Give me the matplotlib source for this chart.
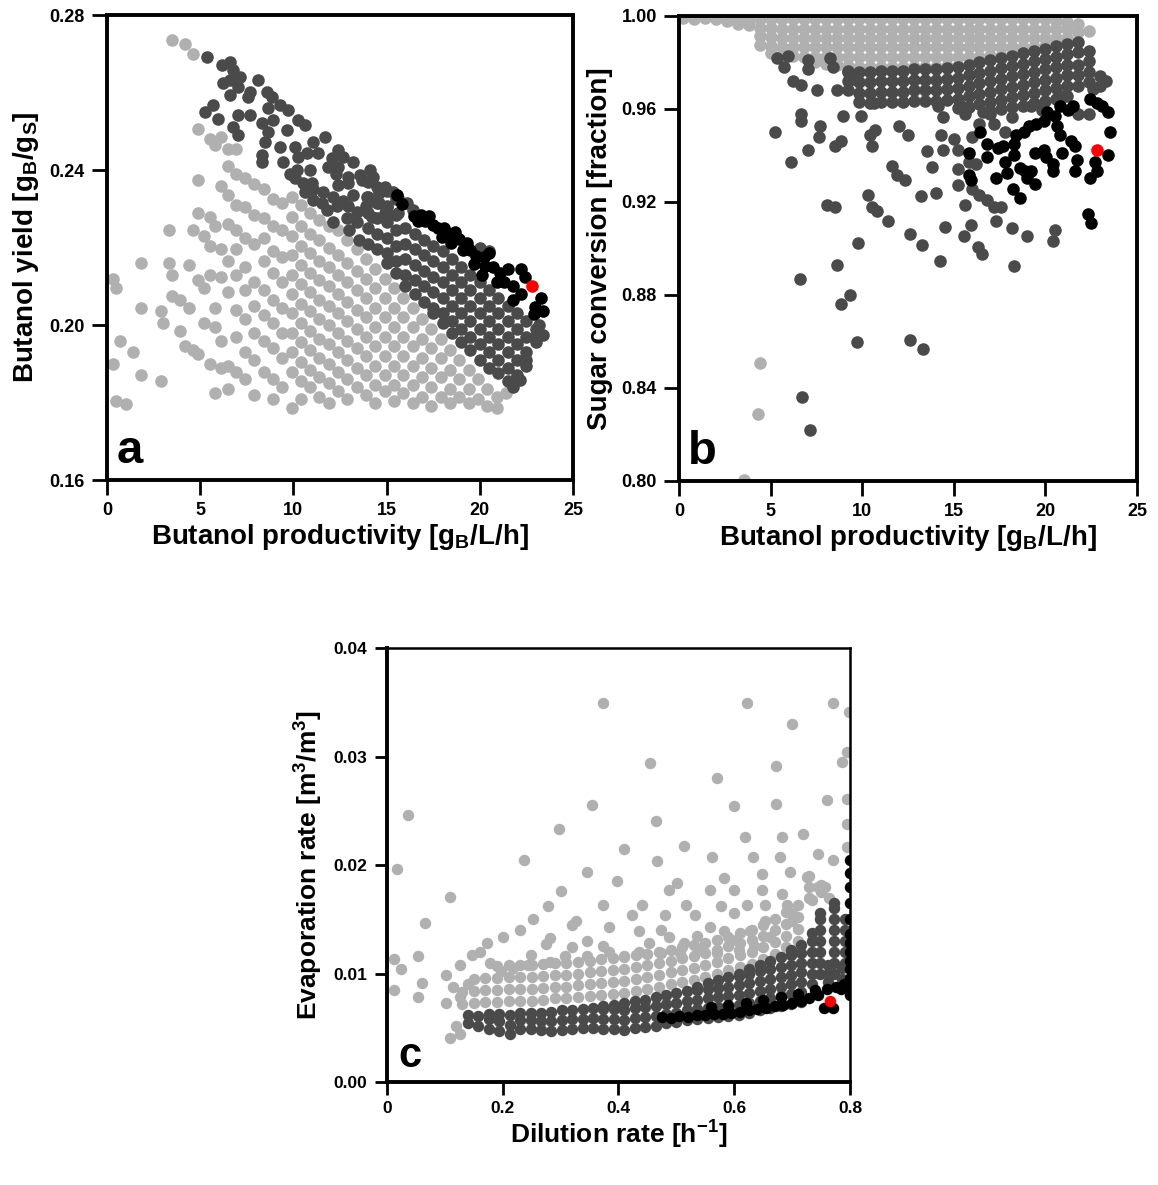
import matplotlib
matplotlib.use("Agg")
import matplotlib.pyplot as plt

plt.rcParams["font.family"] = ["Liberation Sans", "DejaVu Sans"]
plt.rcParams["font.weight"] = "bold"
plt.rcParams["mathtext.fontset"] = "custom"
plt.rcParams["mathtext.rm"] = "Liberation Sans:bold"
plt.rcParams["mathtext.bf"] = "Liberation Sans:bold"
plt.rcParams["mathtext.default"] = "bf"

LIGHT = "#b0b0b0"
DARK = "#4a4a4a"
BLACK = "#000000"
RED = "#ff0000"

# ---------------- panel a : productivity vs yield ----------------
a_light_cx = [0.3, 0.5, 0.7, 1.0, 1.4, 1.8, 2.9, 3.0, 3.3, 3.5, 3.9, 4.2, 4.4, 4.6, 4.9,
              5.2, 5.5, 5.8, 6.1, 6.5, 6.9, 7.4, 7.9, 8.4, 8.9, 9.4, 9.9, 10.4, 10.9,
              11.4, 11.9, 12.4, 12.9, 13.4, 13.9, 14.4, 14.9, 15.4, 15.9, 16.4, 16.9,
              17.4, 17.9, 18.4, 18.9, 19.4, 19.9, 20.4, 20.9, 21.4]
a_light_cy = [
    [0.212, 0.190], [0.2095, 0.1805], [0.196], [0.1795], [0.193],
    [0.216, 0.2045, 0.187], [0.2035, 0.1855], [0.2005], [0.2245, 0.216],
    [0.2735, 0.213, 0.2075], [0.2065, 0.1985], [0.2725, 0.1945], [0.2155, 0.2045],
    [0.2700, 0.2245, 0.1935], [0.2505, 0.2375, 0.229, 0.2115, 0.1925],
    [0.2230, 0.2095, 0.2005], [0.2480, 0.2280, 0.2205, 0.2130, 0.1900],
    [0.2465, 0.2255, 0.2045, 0.1995, 0.1825],
    [0.2485, 0.2360, 0.2195, 0.2125, 0.1960, 0.1890],
    [0.2455, 0.2410, 0.2335, 0.2260, 0.2165, 0.2085, 0.1895, 0.1835],
    [0.2455, 0.2390, 0.2310, 0.2245, 0.2195, 0.2130, 0.2040, 0.1970, 0.1880],
    [0.2380, 0.2305, 0.2225, 0.2150, 0.2090, 0.2015, 0.1930, 0.1860],
    [0.2365, 0.2285, 0.2210, 0.2110, 0.2050, 0.1980, 0.1910, 0.1820],
    [0.2350, 0.2275, 0.2225, 0.2165, 0.2090, 0.2025, 0.1960, 0.1880],
    [0.2325, 0.2255, 0.2190, 0.2135, 0.2065, 0.2005, 0.1940, 0.1860, 0.1810],
    [0.2315, 0.2245, 0.2175, 0.2110, 0.2045, 0.1980, 0.1915, 0.1840],
    [0.2330, 0.2280, 0.2230, 0.2180, 0.2130, 0.2080, 0.2030, 0.1980, 0.1930, 0.1880, 0.1785],
    [0.2310, 0.2255, 0.2205, 0.2155, 0.2105, 0.2055, 0.2005, 0.1955, 0.1905, 0.1855, 0.1810],
    [0.2290, 0.2235, 0.2185, 0.2135, 0.2085, 0.2035, 0.1985, 0.1935, 0.1885, 0.1840],
    [0.2270, 0.2220, 0.2165, 0.2115, 0.2065, 0.2015, 0.1965, 0.1915, 0.1865, 0.1815],
    [0.2255, 0.2200, 0.2150, 0.2100, 0.2050, 0.2000, 0.1950, 0.1900, 0.1850, 0.1800],
    [0.2245, 0.2180, 0.2130, 0.2080, 0.2030, 0.1980, 0.1930, 0.1880, 0.1830],
    [0.2220, 0.2160, 0.2110, 0.2060, 0.2010, 0.1960, 0.1910, 0.1860, 0.1810],
    [0.2195, 0.2140, 0.2090, 0.2040, 0.1990, 0.1940, 0.1890, 0.1840],
    [0.2170, 0.2120, 0.2070, 0.2020, 0.1970, 0.1920, 0.1870, 0.1820],
    [0.2145, 0.2095, 0.2045, 0.1995, 0.1945, 0.1895, 0.1845, 0.1800],
    [0.2120, 0.2070, 0.2020, 0.1970, 0.1920, 0.1870, 0.1830],
    [0.2095, 0.2045, 0.1995, 0.1945, 0.1895, 0.1845, 0.1805],
    [0.2070, 0.2020, 0.1970, 0.1920, 0.1870, 0.1825],
    [0.2045, 0.1995, 0.1945, 0.1895, 0.1845, 0.1800],
    [0.2015, 0.1965, 0.1915, 0.1865, 0.1815],
    [0.1990, 0.1940, 0.1890, 0.1840, 0.1790],
    [0.1965, 0.1915, 0.1865, 0.1815],
    [0.1935, 0.1885, 0.1835, 0.1800],
    [0.1910, 0.1860, 0.1815],
    [0.1885, 0.1835, 0.1800],
    [0.1860, 0.1810],
    [0.1835, 0.1790],
    [0.1815, 0.1785],
    [0.1825],
]

a_dark_x = [5.35, 6.15, 6.6, 6.78, 7.14, 8.12, 6.24, 6.6, 7.03, 7.67, 6.6, 7.58, 8.57, 8.83,
            5.70, 5.26, 5.97, 7.05, 7.67, 8.65, 9.28, 9.73, 8.30, 8.92, 10.26, 10.62, 6.78,
            7.05, 8.65, 9.64, 11.07, 11.70, 8.48, 9.28, 10.09, 10.71, 11.34, 12.41, 8.30,
            8.30, 9.46, 10.26, 12.06, 12.68, 9.82, 10.18, 10.9, 11.87, 12.41, 13.21, 10.09,
            10.53, 10.99, 12.3, 12.95, 13.57, 14.11, 10.62, 11.07, 11.6, 12.41, 12.95, 13.66,
            14.29, 14.91, 11.07, 11.52, 12.14, 12.68, 13.2, 13.93, 14.6, 15.36, 15.6, 11.79,
            12.33, 12.95, 13.4, 13.9, 14.6, 15.0, 16.08, 12.14, 12.85, 13.4, 14.2, 14.9, 15.6,
            16.43, 13.0, 13.5, 20.0, 20.5, 21.8, 22.16, 22.5, 23.05, 23.2]
a_dark_y = [0.2692, 0.2671, 0.2680, 0.2658, 0.2641, 0.2632, 0.2624, 0.2632, 0.2615, 0.2602,
            0.2594, 0.2589, 0.2602, 0.2589, 0.2568, 0.2551, 0.2533, 0.2542, 0.2542, 0.2559,
            0.2568, 0.2555, 0.2521, 0.2529, 0.2529, 0.2516, 0.2512, 0.2490, 0.2499, 0.2503,
            0.2473, 0.2486, 0.2473, 0.2460, 0.2460, 0.2443, 0.2443, 0.2452, 0.2439, 0.2422,
            0.2421, 0.2434, 0.2430, 0.2434, 0.2391, 0.2400, 0.2400, 0.2409, 0.2409, 0.2421,
            0.2379, 0.2366, 0.2366, 0.2390, 0.2383, 0.2387, 0.2400, 0.2344, 0.2350, 0.2344,
            0.2362, 0.2366, 0.2374, 0.2383, 0.2357, 0.2323, 0.2314, 0.2331, 0.2319, 0.2336,
            0.2331, 0.2340, 0.2344, 0.2327, 0.2297, 0.2306, 0.2306, 0.2293, 0.2306, 0.2314,
            0.2306, 0.2314, 0.2267, 0.2276, 0.2267, 0.2280, 0.2290, 0.2290, 0.2297, 0.2245,
            0.2220, 0.2200, 0.2190, 0.1840, 0.1858, 0.1910, 0.1978, 0.2000]
a_dark_cx = [14.0, 14.5, 15.0, 15.5, 16.0, 16.5, 17.0, 17.5, 18.0, 18.5, 19.0, 19.5, 20.0,
             20.5, 21.0, 21.5, 22.0, 22.5, 23.0, 23.4]
a_dark_cy = [
    [0.2370, 0.2330, 0.2290, 0.2250, 0.2210],
    [0.2355, 0.2315, 0.2275, 0.2235, 0.2195],
    [0.2345, 0.2305, 0.2265, 0.2225, 0.2185, 0.2160],
    [0.2325, 0.2285, 0.2245, 0.2205, 0.2165, 0.2135],
    [0.2250, 0.2210, 0.2170, 0.2130, 0.2100],
    [0.2235, 0.2195, 0.2155, 0.2115, 0.2080],
    [0.2220, 0.2180, 0.2140, 0.2100, 0.2060],
    [0.2205, 0.2165, 0.2125, 0.2085, 0.2045, 0.2030],
    [0.2190, 0.2150, 0.2110, 0.2070, 0.2030, 0.2005],
    [0.2170, 0.2130, 0.2090, 0.2050, 0.2010, 0.1980],
    [0.2150, 0.2110, 0.2070, 0.2030, 0.1990, 0.1955],
    [0.2130, 0.2090, 0.2050, 0.2010, 0.1970, 0.1935],
    [0.2110, 0.2070, 0.2030, 0.1990, 0.1950, 0.1910],
    [0.2090, 0.2050, 0.2010, 0.1970, 0.1930, 0.1890],
    [0.2070, 0.2030, 0.1990, 0.1950, 0.1910, 0.1875],
    [0.2050, 0.2010, 0.1970, 0.1930, 0.1890, 0.1855],
    [0.2030, 0.1990, 0.1950, 0.1910, 0.1870],
    [0.2010, 0.1970, 0.1930, 0.1895],
    [0.1990, 0.1955],
    [0.1975],
]
a_black_x = [15.55, 15.81, 16.46, 16.86, 17.27, 17.47, 17.77, 18.08, 18.38, 18.68, 18.89,
             19.29, 19.49, 19.80, 20.2, 20.5, 20.3, 20.7, 21.1, 21.5, 21.3, 21.8, 22.2,
             22.4, 21.8, 22.2, 23.3, 23.4, 22.9, 22.95, 16.66, 17.06, 17.98, 18.48, 19.09,
             19.70, 20.1, 20.9]
a_black_y = [0.2335, 0.2313, 0.2282, 0.2284, 0.2282, 0.2259, 0.2250, 0.2250, 0.2236, 0.2241,
             0.2222, 0.2213, 0.2194, 0.2178, 0.2176, 0.2185, 0.2153, 0.2150, 0.2134, 0.2144,
             0.2111, 0.2102, 0.2144, 0.2125, 0.2065, 0.2079, 0.2070, 0.2037, 0.2028, 0.2047,
             0.2268, 0.2268, 0.2227, 0.2213, 0.2194, 0.2157, 0.2130, 0.2111]
a_best = (22.8, 0.2102)

# ---------------- panel b : productivity vs sugar conversion ----------------
b_light_cx = [0.2, 0.8, 1.4, 2.0, 2.6, 3.2, 3.8, 4.4, 5.0, 5.6, 6.2, 6.8, 7.4, 8.0, 8.6,
              9.2, 9.8, 10.4, 11.0, 11.6, 12.2, 12.8, 13.4, 14.0, 14.6, 15.2, 15.8, 16.4,
              17.0, 17.6, 18.2, 18.8, 19.4, 20.0, 20.6, 21.2, 21.8, 22.4]
b_light_cy = [
    [0.9990], [0.9985], [0.9990], [0.9985], [0.9980], [0.9985, 0.9965], [0.9985, 0.9960],
    [0.9985, 0.9950, 0.9915, 0.9875],
    [0.9985, 0.9950, 0.9910, 0.9870, 0.9840],
    [0.9985, 0.9945, 0.9905, 0.9865, 0.9830],
    [0.9985, 0.9945, 0.9905, 0.9865, 0.9830],
    [0.9985, 0.9945, 0.9905, 0.9865, 0.9825],
    [0.9985, 0.9945, 0.9905, 0.9865, 0.9825, 0.9800],
    [0.9985, 0.9945, 0.9905, 0.9865, 0.9825, 0.9795],
    [0.9985, 0.9945, 0.9905, 0.9865, 0.9825, 0.9790],
    [0.9985, 0.9945, 0.9905, 0.9865, 0.9825, 0.9785],
    [0.9985, 0.9945, 0.9905, 0.9865, 0.9825, 0.9780],
    [0.9985, 0.9945, 0.9905, 0.9865, 0.9825, 0.9780],
    [0.9985, 0.9945, 0.9905, 0.9865, 0.9825, 0.9780],
    [0.9985, 0.9945, 0.9905, 0.9865, 0.9825, 0.9780],
    [0.9985, 0.9945, 0.9905, 0.9865, 0.9825, 0.9780],
    [0.9985, 0.9945, 0.9905, 0.9865, 0.9825, 0.9780],
    [0.9985, 0.9945, 0.9905, 0.9865, 0.9825, 0.9780],
    [0.9985, 0.9945, 0.9905, 0.9865, 0.9825, 0.9780],
    [0.9985, 0.9945, 0.9905, 0.9865, 0.9825, 0.9785],
    [0.9985, 0.9945, 0.9905, 0.9865, 0.9825, 0.9785],
    [0.9985, 0.9945, 0.9905, 0.9865, 0.9825, 0.9790],
    [0.9985, 0.9945, 0.9905, 0.9865, 0.9825, 0.9800],
    [0.9985, 0.9945, 0.9905, 0.9865, 0.9830],
    [0.9985, 0.9945, 0.9905, 0.9865, 0.9830],
    [0.9985, 0.9945, 0.9905, 0.9865, 0.9835],
    [0.9985, 0.9945, 0.9905, 0.9865, 0.9845],
    [0.9985, 0.9945, 0.9905, 0.9865],
    [0.9985, 0.9945, 0.9905, 0.9870],
    [0.9980, 0.9945, 0.9905, 0.9880],
    [0.9975, 0.9945, 0.9905],
    [0.9965, 0.9930],
    [0.9935],
]
b_light_x = [4.43, 4.29, 3.57]
b_light_y = [0.8507, 0.8290, 0.8005]

b_dark_x = [5.23, 5.33, 5.73, 5.93, 6.13, 6.23, 6.63, 6.63, 6.63, 6.59, 6.73, 7.13, 7.03, 7.03,
            7.03, 7.51, 7.67, 7.63, 8.23, 8.43, 8.63, 8.53, 8.83, 8.93, 8.07, 8.53, 8.63, 8.83,
            9.33, 9.76, 9.72, 9.22, 9.42, 9.92, 10.32, 10.52, 10.82, 10.42, 10.72, 10.52,
            10.62, 11.42, 11.62, 11.92, 12.32, 12.02, 12.62, 12.62, 13.32, 13.22, 13.27,
            12.52, 13.52, 13.82, 14.02, 14.22, 14.52, 14.12, 14.42, 14.32, 14.42, 15.02,
            15.22, 15.22, 15.22, 15.62, 15.58, 15.92, 16.32, 16.52, 16.0, 16.4, 16.8, 17.2,
            17.6, 15.82, 16.22, 17.3, 18.2, 18.3, 19.0, 20.4, 20.5, 17.8, 17.2, 16.0, 16.4,
            15.6, 15.4, 16.6, 17.0, 18.2, 19.2, 19.8, 21.0, 21.8, 22.4, 22.6, 23.3]
b_dark_y = [0.9503, 0.9819, 0.9781, 0.9827, 0.9371, 0.9719, 0.9703, 0.9580, 0.9549, 0.8869,
            0.8360, 0.8220, 0.9812, 0.9773, 0.9425, 0.9680, 0.9526, 0.9480, 0.9819, 0.9780,
            0.9680, 0.9440, 0.9464, 0.9572, 0.9186, 0.9178, 0.8931, 0.8761, 0.8800, 0.9024,
            0.8599, 0.9758, 0.9727, 0.9572, 0.9232, 0.9178, 0.9163, 0.9487, 0.9510, 0.9440,
            0.9626, 0.9117, 0.9356, 0.9318, 0.9294, 0.9526, 0.9063, 0.8607, 0.8568, 0.9225,
            0.9016, 0.9487, 0.9418, 0.9349, 0.9240, 0.8947, 0.9093, 0.9611, 0.9565, 0.9487,
            0.9425, 0.9472, 0.9425, 0.9340, 0.9271, 0.9186, 0.9055, 0.9101, 0.9008, 0.8978,
            0.9256, 0.9232, 0.9209, 0.9178, 0.9178, 0.9371, 0.9364, 0.9117, 0.9086, 0.8924,
            0.9055, 0.9032, 0.9078, 0.9503, 0.9534, 0.9480, 0.9534, 0.9580, 0.9611, 0.9588,
            0.9580, 0.9565, 0.9611, 0.9595, 0.9657, 0.9580, 0.9580, 0.9688, 0.9719]
b_dark_cx = [9.2, 9.8, 10.4, 11.0, 11.6, 12.2, 12.8, 13.4, 14.0, 14.6, 15.2, 15.8, 16.4,
             17.0, 17.6, 18.2, 18.8, 19.4, 20.0, 20.6, 21.2, 21.8, 22.4, 23.0]
b_dark_cy = [
    [0.9765, 0.9720, 0.9680],
    [0.9760, 0.9715, 0.9670, 0.9630],
    [0.9760, 0.9715, 0.9670, 0.9625],
    [0.9765, 0.9720, 0.9675, 0.9630],
    [0.9765, 0.9720, 0.9675, 0.9630],
    [0.9765, 0.9720, 0.9675, 0.9630],
    [0.9770, 0.9725, 0.9680, 0.9635],
    [0.9770, 0.9725, 0.9680, 0.9635],
    [0.9770, 0.9725, 0.9680, 0.9635],
    [0.9775, 0.9730, 0.9685, 0.9640],
    [0.9780, 0.9735, 0.9690, 0.9645, 0.9605],
    [0.9790, 0.9745, 0.9700, 0.9655, 0.9610],
    [0.9800, 0.9755, 0.9710, 0.9665, 0.9620],
    [0.9810, 0.9765, 0.9720, 0.9675, 0.9630, 0.9590],
    [0.9820, 0.9775, 0.9730, 0.9685, 0.9640, 0.9600],
    [0.9830, 0.9785, 0.9740, 0.9695, 0.9650, 0.9610],
    [0.9840, 0.9795, 0.9750, 0.9705, 0.9660, 0.9615],
    [0.9850, 0.9805, 0.9760, 0.9715, 0.9670, 0.9625],
    [0.9860, 0.9815, 0.9770, 0.9725, 0.9680, 0.9635],
    [0.9870, 0.9825, 0.9780, 0.9735, 0.9690, 0.9645],
    [0.9880, 0.9835, 0.9790, 0.9745, 0.9700, 0.9655],
    [0.9890, 0.9845, 0.9790, 0.9745, 0.9700],
    [0.9850, 0.9805, 0.9760, 0.9715],
    [0.9740, 0.9700],
]
b_black_x = [16.41, 15.81, 16.81, 16.81, 17.41, 17.71, 17.31, 17.81, 17.91, 18.31, 18.41,
             18.81, 19.11, 19.51, 19.91, 20.11, 20.51, 20.81, 21.21, 21.51, 18.31, 18.61,
             18.91, 19.01, 19.41, 18.21, 18.61, 19.91, 20.01, 20.41, 20.41, 20.61, 20.81,
             20.91, 21.41, 21.61, 21.71, 21.61, 22.41, 22.81, 22.71, 22.41, 22.81, 23.11,
             23.41, 23.51, 23.41, 22.31, 22.51, 15.81, 15.91, 19.41, 19.21]
b_black_y = [0.9503, 0.9410, 0.9449, 0.9395, 0.9434, 0.9441, 0.9302, 0.9371, 0.9325, 0.9449,
             0.9487, 0.9503, 0.9526, 0.9534, 0.9549, 0.9588, 0.9572, 0.9611, 0.9595, 0.9611,
             0.9402, 0.9348, 0.9333, 0.9302, 0.9279, 0.9256, 0.9217, 0.9425, 0.9395, 0.9364,
             0.9333, 0.9526, 0.9487, 0.9410, 0.9464, 0.9441, 0.9379, 0.9333, 0.9302, 0.9333,
             0.9371, 0.9642, 0.9626, 0.9611, 0.9588, 0.9503, 0.9402, 0.9147, 0.9109, 0.9317,
             0.9294, 0.9410, 0.9333]
b_best = (22.81, 0.9425)

# ---------------- panel c : dilution rate vs evaporation rate ----------------
c_light_x = [0.3727, 0.622, 0.770, 0.699, 0.799, 0.455, 0.795, 0.786, 0.673, 0.571, 0.760,
             0.673, 0.600, 0.355, 0.037, 0.465, 0.2975, 0.718, 0.619, 0.683, 0.795, 0.795,
             0.795, 0.513, 0.410, 0.561, 0.632, 0.679, 0.466, 0.2375, 0.770, 0.744, 0.018,
             0.696, 0.346, 0.648, 0.583, 0.725, 0.397, 0.501, 0.488, 0.558, 0.600, 0.648,
             0.744, 0.757, 0.3005, 0.683, 0.109, 0.734, 0.763, 0.374, 0.278, 0.441, 0.516,
             0.577, 0.622, 0.654, 0.692, 0.481, 0.423, 0.532, 0.600, 0.699, 0.654, 0.065,
             0.2525, 0.320, 0.326, 0.558, 0.230, 0.383, 0.436, 0.474, 0.583, 0.628, 0.535,
             0.487, 0.201, 0.281, 0.346, 0.374, 0.452, 0.513, 0.603, 0.661, 0.699, 0.172,
             0.275, 0.320, 0.147, 0.160, 0.249, 0.0116, 0.053, 0.024, 0.1015, 0.127, 0.178,
             0.1965, 0.217, 0.243, 0.281, 0.307, 0.346, 0.384, 0.410, 0.436, 0.474, 0.506,
             0.538, 0.571, 0.609, 0.635, 0.0116, 0.060, 0.053, 0.1015, 0.114, 0.140, 0.127,
             0.109, 0.127, 0.120]
c_light_y = [0.0349, 0.0349, 0.0349, 0.0330, 0.0341, 0.0294, 0.0304, 0.0295, 0.0291, 0.0280,
             0.0260, 0.0256, 0.0254, 0.0255, 0.0246, 0.0241, 0.0233, 0.0229, 0.0226, 0.0226,
             0.0261, 0.0238, 0.0217, 0.0218, 0.0215, 0.0207, 0.0207, 0.0207, 0.0204, 0.0205,
             0.0205, 0.0210, 0.0196, 0.0194, 0.0194, 0.0192, 0.0188, 0.0189, 0.0185, 0.0183,
             0.0177, 0.0177, 0.0177, 0.0177, 0.0180, 0.0180, 0.0176, 0.0173, 0.0171, 0.0168,
             0.0170, 0.0163, 0.0162, 0.0163, 0.0163, 0.0162, 0.0163, 0.0163, 0.0163, 0.0154,
             0.0154, 0.0154, 0.0156, 0.0156, 0.0148, 0.0147, 0.0150, 0.0145, 0.0148, 0.0143,
             0.0140, 0.0143, 0.0139, 0.0140, 0.0139, 0.0139, 0.0135, 0.0134, 0.0134, 0.0133,
             0.0130, 0.0125, 0.0128, 0.0128, 0.0131, 0.0134, 0.0148, 0.0128, 0.0127, 0.0124,
             0.0117, 0.0120, 0.0117, 0.0113, 0.0116, 0.0104, 0.0099, 0.0108, 0.0110, 0.0102,
             0.0105, 0.0108, 0.0111, 0.0116, 0.0116, 0.0120, 0.0116, 0.0120, 0.0119, 0.0119,
             0.0122, 0.0119, 0.0122, 0.0125, 0.0085, 0.0091, 0.0078, 0.0073, 0.0088, 0.0090,
             0.0078, 0.0041, 0.0044, 0.0052]
c_light_cx = [0.13, 0.15, 0.17, 0.19, 0.21, 0.23, 0.25, 0.27, 0.29, 0.31, 0.33, 0.35, 0.37,
              0.39, 0.41, 0.43, 0.45, 0.47, 0.49, 0.51, 0.53, 0.55, 0.57, 0.59, 0.61, 0.63,
              0.65, 0.67, 0.69, 0.71, 0.73, 0.75]
c_light_cy = [
    [0.0072, 0.0083], [0.0073, 0.0084, 0.0095], [0.0074, 0.0085, 0.0096],
    [0.0074, 0.0085, 0.0096, 0.0107], [0.0075, 0.0086, 0.0097, 0.0108],
    [0.0075, 0.0086, 0.0097, 0.0108], [0.0075, 0.0086, 0.0097, 0.0108],
    [0.0076, 0.0087, 0.0098, 0.0109], [0.0077, 0.0088, 0.0099, 0.0110],
    [0.0077, 0.0088, 0.0099, 0.0110], [0.0078, 0.0089, 0.0100, 0.0111],
    [0.0079, 0.0090, 0.0101, 0.0112], [0.0080, 0.0091, 0.0102, 0.0113],
    [0.0081, 0.0092, 0.0103, 0.0114], [0.0082, 0.0093, 0.0104, 0.0115],
    [0.0084, 0.0095, 0.0106, 0.0117], [0.0086, 0.0097, 0.0108, 0.0118],
    [0.0088, 0.0099, 0.0110, 0.0120], [0.0090, 0.0101, 0.0112, 0.0122],
    [0.0092, 0.0103, 0.0114, 0.0124], [0.0094, 0.0105, 0.0116, 0.0126],
    [0.0097, 0.0108, 0.0119, 0.0128], [0.0100, 0.0111, 0.0122, 0.0131],
    [0.0103, 0.0114, 0.0125, 0.0134], [0.0106, 0.0117, 0.0128, 0.0137],
    [0.0109, 0.0120, 0.0131, 0.0140], [0.0113, 0.0124, 0.0135, 0.0145],
    [0.0118, 0.0129, 0.0140, 0.0150], [0.0124, 0.0135, 0.0146, 0.0157],
    [0.0130, 0.0141, 0.0152, 0.0163], [0.0170, 0.0180, 0.0190], [0.0175, 0.0182],
]
c_dark_cx = [0.140, 0.158, 0.176, 0.194, 0.212, 0.230, 0.248, 0.266, 0.284, 0.302, 0.320,
             0.338, 0.356, 0.374, 0.392, 0.410, 0.428, 0.446, 0.464, 0.482, 0.500, 0.518,
             0.536, 0.554, 0.572, 0.590, 0.608, 0.626, 0.644, 0.662, 0.680, 0.698, 0.716,
             0.734, 0.748, 0.762, 0.772, 0.786, 0.792]
c_dark_cy = [
    [0.0054, 0.0062], [0.0052, 0.0061], [0.0049, 0.0058, 0.0063], [0.0047, 0.0056, 0.0063],
    [0.0044, 0.0053, 0.0062], [0.0049, 0.0057, 0.0064], [0.0049, 0.0057, 0.0064],
    [0.0048, 0.0056, 0.0064], [0.0047, 0.0056, 0.0065], [0.0048, 0.0057, 0.0066],
    [0.0049, 0.0058, 0.0066], [0.0050, 0.0058, 0.0067], [0.0050, 0.0059, 0.0068],
    [0.0049, 0.0058, 0.0067, 0.0070], [0.0049, 0.0058, 0.0067, 0.0071],
    [0.0048, 0.0057, 0.0066, 0.0073], [0.0050, 0.0059, 0.0068, 0.0075],
    [0.0051, 0.0060, 0.0069, 0.0076], [0.0052, 0.0061, 0.0070, 0.0078],
    [0.0054, 0.0063, 0.0072, 0.0080], [0.0055, 0.0064, 0.0073, 0.0082],
    [0.0057, 0.0066, 0.0075, 0.0084], [0.0058, 0.0067, 0.0076, 0.0085, 0.0088],
    [0.0059, 0.0068, 0.0077, 0.0086, 0.0091], [0.0060, 0.0069, 0.0078, 0.0087, 0.0094],
    [0.0061, 0.0070, 0.0079, 0.0088, 0.0097],
    [0.0062, 0.0071, 0.0080, 0.0089, 0.0098, 0.0100],
    [0.0064, 0.0073, 0.0082, 0.0091, 0.0100, 0.0104],
    [0.0066, 0.0075, 0.0084, 0.0093, 0.0102, 0.0108],
    [0.0068, 0.0077, 0.0086, 0.0095, 0.0104, 0.0112],
    [0.0070, 0.0079, 0.0088, 0.0097, 0.0106, 0.0115],
    [0.0072, 0.0081, 0.0090, 0.0099, 0.0108, 0.0117, 0.0122],
    [0.0074, 0.0083, 0.0092, 0.0101, 0.0110, 0.0119, 0.0126],
    [0.0090, 0.0100, 0.0110, 0.0120, 0.0130, 0.0137],
    [0.0100, 0.0110, 0.0120, 0.0130, 0.0140, 0.0150, 0.0156],
    [0.0092, 0.0100, 0.0108],
    [0.0100, 0.0110, 0.0120, 0.0130, 0.0140, 0.0150, 0.0160, 0.0165],
    [0.0095, 0.0105],
    [0.0110, 0.0120, 0.0130, 0.0140, 0.0150],
]
c_black_x = [0.475, 0.490, 0.505, 0.520, 0.535, 0.550, 0.565, 0.580, 0.595, 0.610, 0.625,
             0.640, 0.655, 0.670, 0.685, 0.700, 0.715, 0.730, 0.745, 0.760, 0.775, 0.790,
             0.560, 0.590, 0.620, 0.650, 0.680, 0.710, 0.740, 0.755, 0.770, 0.785,
             0.800, 0.800, 0.800, 0.800, 0.800, 0.800, 0.800, 0.800, 0.800, 0.800, 0.800,
             0.800, 0.800]
c_black_y = [0.0060, 0.0059, 0.0061, 0.0060, 0.0062, 0.0062, 0.0063, 0.0063, 0.0064, 0.0065,
             0.0066, 0.0067, 0.0068, 0.0070, 0.0071, 0.0073, 0.0075, 0.0077, 0.0080, 0.0086,
             0.0088, 0.0090, 0.0069, 0.0071, 0.0073, 0.0076, 0.0078, 0.0081, 0.0085, 0.0068,
             0.0068, 0.0086, 0.0080, 0.0088, 0.0096, 0.0104, 0.0112, 0.0120, 0.0128, 0.0136,
             0.0150, 0.0165, 0.0180, 0.0193, 0.0205]
c_best = (0.765, 0.0075)


def flat(cx, cy):
    xs, ys = [], []
    for x, col in zip(cx, cy):
        for y in col:
            xs.append(x)
            ys.append(y)
    return xs, ys


def style(ax, size, lw=2.8):
    for s in ax.spines.values():
        s.set_linewidth(lw)
    ax.tick_params(direction="out", length=11, width=2.0, labelsize=size, pad=5)
    for lab in ax.get_xticklabels() + ax.get_yticklabels():
        lab.set_fontweight("bold")


fig = plt.figure(figsize=(11.58, 11.85), dpi=100)
S = 82

# panel a
ax = fig.add_axes([0.0924, 0.5949, 0.4024, 0.3924])
ax.scatter(*flat(a_light_cx, a_light_cy), s=S, c=LIGHT, lw=0)
ax.scatter(a_dark_x, a_dark_y, s=S, c=DARK, lw=0)
ax.scatter(*flat(a_dark_cx, a_dark_cy), s=S, c=DARK, lw=0)
ax.scatter(a_black_x, a_black_y, s=S, c=BLACK, lw=0)
ax.scatter(*a_best, s=S, c=RED, lw=0)
ax.set_xlim(0, 25)
ax.set_ylim(0.16, 0.28)
ax.set_xticks([0, 5, 10, 15, 20, 25])
ax.set_yticks([0.16, 0.20, 0.24, 0.28])
ax.set_yticklabels(["0.16", "0.20", "0.24", "0.28"])
style(ax, 13)
ax.set_xlabel("Butanol productivity [g$_B$/L/h]", fontsize=20, fontweight="bold", labelpad=2)
ax.set_ylabel("Butanol yield [g$_B$/g$_S$]", fontsize=20, fontweight="bold", labelpad=6)
ax.text(0.02, 0.015, "a", transform=ax.transAxes, fontsize=34, fontweight="bold",
        ha="left", va="bottom")

# panel b
ax = fig.add_axes([0.5864, 0.5941, 0.3955, 0.3924])
ax.scatter(*flat(b_light_cx, b_light_cy), s=S, c=LIGHT, lw=0)
ax.scatter(b_light_x, b_light_y, s=S, c=LIGHT, lw=0)
ax.scatter(b_dark_x, b_dark_y, s=S, c=DARK, lw=0)
ax.scatter(*flat(b_dark_cx, b_dark_cy), s=S, c=DARK, lw=0)
ax.scatter(b_black_x, b_black_y, s=S, c=BLACK, lw=0)
ax.scatter(*b_best, s=S, c=RED, lw=0)
ax.set_xlim(0, 25)
ax.set_ylim(0.80, 1.00)
ax.set_xticks([0, 5, 10, 15, 20, 25])
ax.set_yticks([0.80, 0.84, 0.88, 0.92, 0.96, 1.00])
ax.set_yticklabels(["0.80", "0.84", "0.88", "0.92", "0.96", "1.00"])
style(ax, 13)
ax.set_xlabel("Butanol productivity [g$_B$/L/h]", fontsize=20, fontweight="bold", labelpad=2)
ax.set_ylabel("Sugar conversion [fraction]", fontsize=20, fontweight="bold", labelpad=6)
ax.text(0.02, 0.015, "b", transform=ax.transAxes, fontsize=34, fontweight="bold",
        ha="left", va="bottom")

# panel c
ax = fig.add_axes([0.3342, 0.0869, 0.3998, 0.3662])
Sc = 68
ax.scatter(c_light_x, c_light_y, s=Sc, c=LIGHT, lw=0)
ax.scatter(*flat(c_light_cx, c_light_cy), s=Sc, c=LIGHT, lw=0)
ax.scatter(*flat(c_dark_cx, c_dark_cy), s=Sc, c=DARK, lw=0)
ax.scatter(c_black_x, c_black_y, s=Sc, c=BLACK, lw=0)
ax.scatter(*c_best, s=Sc, c=RED, lw=0)
ax.set_xlim(0, 0.8)
ax.set_ylim(0, 0.04)
ax.set_xticks([0, 0.2, 0.4, 0.6, 0.8])
ax.set_xticklabels(["0", "0.2", "0.4", "0.6", "0.8"])
ax.set_yticks([0, 0.01, 0.02, 0.03, 0.04])
ax.set_yticklabels(["0.00", "0.01", "0.02", "0.03", "0.04"])
style(ax, 12.5)
ax.spines["top"].set_linewidth(1.8)
ax.spines["right"].set_linewidth(1.8)
ax.tick_params(length=9)
ax.set_xlabel("Dilution rate [h$^{-1}$]", fontsize=19, fontweight="bold", labelpad=2)
ax.set_ylabel("Evaporation rate [m$^3$/m$^3$]", fontsize=19, fontweight="bold", labelpad=6)
ax.text(0.025, 0.015, "c", transform=ax.transAxes, fontsize=30, fontweight="bold",
        ha="left", va="bottom")

fig.savefig("out.png", dpi=100)
